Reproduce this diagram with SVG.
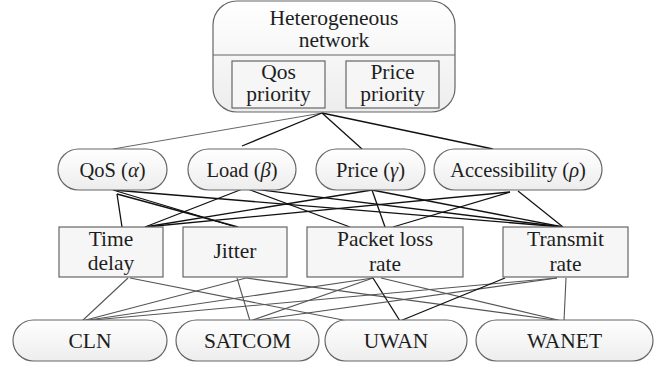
<svg xmlns="http://www.w3.org/2000/svg" width="669" height="368" viewBox="0 0 669 368">
<defs>
<linearGradient id="pill" x1="0" y1="0" x2="0" y2="1">
<stop offset="0" stop-color="#ffffff"/>
<stop offset="1" stop-color="#ededed"/>
</linearGradient>
<style>
text{font-family:"Liberation Serif","Times New Roman",serif;fill:#1e1e1e;text-anchor:middle}
.t21{font-size:21.5px}
.t20{font-size:20.5px}
.t4{font-size:21.5px}
.pill{fill:url(#pill);stroke:#666;stroke-width:1.2}
.box{fill:#f6f6f6;stroke:#666;stroke-width:1.2}
.dk{stroke:#111;stroke-width:1.3;fill:none}
.lt{stroke:#555;stroke-width:1.1;fill:none}
.gr{stroke:#666;stroke-width:1;fill:none}
</style>
</defs>
<rect width="669" height="368" fill="#fff"/>
<g id="connectors">
<line class="gr" x1="322" y1="113" x2="113" y2="149"/>
<line class="dk" x1="322" y1="113" x2="242" y2="146"/>
<line class="dk" x1="322" y1="113" x2="362" y2="149"/>
<line class="dk" x1="322" y1="113" x2="493" y2="149"/>
<line class="dk" x1="113" y1="190" x2="236" y2="227"/>
<line class="dk" x1="117" y1="194" x2="238" y2="227"/>
<line class="dk" x1="117" y1="194" x2="122" y2="227"/>
<line class="dk" x1="113" y1="190" x2="563" y2="227"/>
<line class="dk" x1="245" y1="188" x2="145" y2="227"/>
<line class="dk" x1="245" y1="188" x2="350" y2="227"/>
<line class="dk" x1="245" y1="188" x2="563" y2="227"/>
<line class="dk" x1="372" y1="190" x2="145" y2="227"/>
<line class="dk" x1="372" y1="190" x2="385" y2="227"/>
<line class="dk" x1="372" y1="190" x2="563" y2="227"/>
<line class="dk" x1="510" y1="192" x2="145" y2="227"/>
<line class="dk" x1="510" y1="192" x2="393" y2="227"/>
<line class="dk" x1="518" y1="191" x2="563" y2="227"/>
<line class="lt" x1="128" y1="278" x2="82" y2="321"/>
<line class="lt" x1="130" y1="278" x2="348" y2="321"/>
<line class="lt" x1="237" y1="278" x2="250" y2="321"/>
<line class="lt" x1="246" y1="278" x2="82" y2="321"/>
<line class="lt" x1="246" y1="278" x2="562" y2="321"/>
<line class="lt" x1="373" y1="278" x2="82" y2="321"/>
<line class="lt" x1="373" y1="278" x2="250" y2="321"/>
<line class="dk" x1="373" y1="278" x2="400" y2="321"/>
<line class="lt" x1="381" y1="278" x2="562" y2="321"/>
<line class="lt" x1="557" y1="278" x2="82" y2="321"/>
<line class="lt" x1="557" y1="278" x2="250" y2="321"/>
<line class="dk" x1="505" y1="278" x2="400" y2="321"/>
<line class="lt" x1="566" y1="278" x2="564" y2="321"/>
</g>
<g id="heterogeneous-network">
<rect class="pill" x="213" y="1" width="242" height="111" rx="24"/>
<line x1="213" y1="55" x2="455" y2="55" stroke="#666" stroke-width="1.2"/>
<text class="t21" x="334" y="25">Heterogeneous</text>
<text class="t21" x="334" y="47">network</text>
</g>
<g id="qos-priority">
<rect class="box" x="232" y="61" width="93" height="47"/>
<text class="t21" x="278.5" y="79">Qos</text>
<text class="t21" x="278.5" y="101">priority</text>
</g>
<g id="price-priority">
<rect class="box" x="346" y="61" width="93" height="47"/>
<text class="t21" x="392.5" y="79">Price</text>
<text class="t21" x="392.5" y="101">priority</text>
</g>
<g id="qos">
<rect class="pill" x="58" y="149" width="109" height="41" rx="20.5"/>
<text class="t20" x="112.5" y="177">QoS (<tspan font-style="italic">α</tspan>)</text>
</g>
<g id="load">
<rect class="pill" x="188" y="149" width="108" height="41" rx="20.5"/>
<text class="t20" x="242" y="177">Load (<tspan font-style="italic">β</tspan>)</text>
</g>
<g id="price">
<rect class="pill" x="316" y="149" width="109" height="41" rx="20.5"/>
<text class="t20" x="370.5" y="177">Price (<tspan font-style="italic">γ</tspan>)</text>
</g>
<g id="accessibility">
<rect class="pill" x="434" y="149" width="168" height="41" rx="20.5"/>
<text class="t20" x="518" y="177">Accessibility (<tspan font-style="italic">ρ</tspan>)</text>
</g>
<g id="time-delay">
<rect class="box" x="59" y="227" width="104" height="50"/>
<text class="t21" x="111" y="246">Time</text>
<text class="t21" x="111" y="270">delay</text>
</g>
<g id="jitter">
<rect class="box" x="183" y="227" width="104" height="50"/>
<text class="t21" x="235" y="258">Jitter</text>
</g>
<g id="packet-loss-rate">
<rect class="box" x="307" y="227" width="156" height="50"/>
<text class="t21" x="385" y="246">Packet loss</text>
<text class="t21" x="385" y="271">rate</text>
</g>
<g id="transmit-rate">
<rect class="box" x="503" y="227" width="125" height="50"/>
<text class="t21" x="565.5" y="246">Transmit</text>
<text class="t21" x="565.5" y="271">rate</text>
</g>
<g id="cln">
<rect class="pill" x="13" y="320" width="154" height="41" rx="20.5"/>
<text class="t4" x="90" y="348">CLN</text>
</g>
<g id="satcom">
<rect class="pill" x="176" y="320" width="143" height="41" rx="20.5"/>
<text class="t4" x="247.5" y="348">SATCOM</text>
</g>
<g id="uwan">
<rect class="pill" x="325" y="320" width="142" height="41" rx="20.5"/>
<text class="t4" x="396" y="348">UWAN</text>
</g>
<g id="wanet">
<rect class="pill" x="476" y="320" width="177" height="41" rx="20.5"/>
<text class="t4" x="564.5" y="348">WANET</text>
</g>
</svg>
